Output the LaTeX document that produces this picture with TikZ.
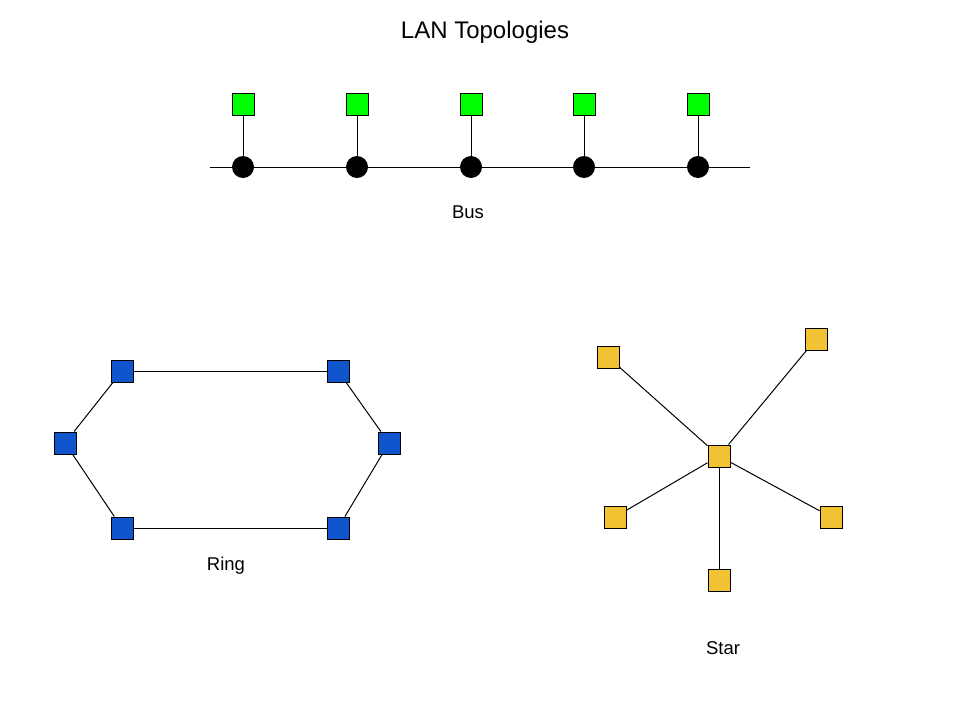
\documentclass[tikz,border=0pt]{standalone}
\usepackage{fontspec}
\setmainfont{Liberation Sans}
\definecolor{busgreen}{RGB}{0,255,0}
\definecolor{ringblue}{RGB}{17,85,204}
\definecolor{staryellow}{RGB}{241,194,50}

\begin{document}
\begin{tikzpicture}[x=1pt,y=-1pt,line width=1pt,
    station/.style={draw,minimum size=22pt,inner sep=0pt},
    tap/.style={circle,fill=black,minimum size=22pt,inner sep=0pt},
    lbl/.style={font=\fontsize{18.5}{22}\selectfont}]
    \useasboundingbox (0,0) rectangle (960,720);
%%   kw   (name)   (x, y)   {text}
    \node (title) at (485,32) {\fontsize{24}{28}\selectfont LAN Topologies};

%% bus
    \coordinate (busL) at (210,167);
    \coordinate (busR) at (750,167);
    \draw (busL) -- (busR);
    \node[tap] (c1) at (243,167) {};
    \node[tap] (c2) at (357,167) {};
    \node[tap] (c3) at (471,167) {};
    \node[tap] (c4) at (584,167) {};
    \node[tap] (c5) at (698,167) {};
    \node[station,fill=busgreen] (b1) at (243,104) {};
    \node[station,fill=busgreen] (b2) at (357,104) {};
    \node[station,fill=busgreen] (b3) at (471,104) {};
    \node[station,fill=busgreen] (b4) at (584,104) {};
    \node[station,fill=busgreen] (b5) at (698,104) {};
    \draw (b1) -- (c1);
    \draw (b2) -- (c2);
    \draw (b3) -- (c3);
    \draw (b4) -- (c4);
    \draw (b5) -- (c5);
    \node[lbl] (bus) at (468,212) {Bus};

%% ring
    \node[station,fill=ringblue] (r1) at (122,371) {};
    \node[station,fill=ringblue] (r2) at (338,371) {};
    \node[station,fill=ringblue] (r3) at (389,443) {};
    \node[station,fill=ringblue] (r4) at (338,528) {};
    \node[station,fill=ringblue] (r5) at (122,528) {};
    \node[station,fill=ringblue] (r6) at (65,443) {};
    \draw (r1) -- (r2);
    \draw (r2) -- (r3);
    \draw (r3) -- (r4);
    \draw (r4) -- (r5);
    \draw (r5) -- (r6);
    \draw (r6) -- (r1);
    \node[lbl] (ring) at (226,566) {Ring};

%% star
    \node[station,fill=staryellow] (hub) at (719,456) {};
    \node[station,fill=staryellow] (s1) at (608,357) {};
    \node[station,fill=staryellow] (s2) at (816,339) {};
    \node[station,fill=staryellow] (s3) at (615,517) {};
    \node[station,fill=staryellow] (s4) at (831,517) {};
    \node[station,fill=staryellow] (s5) at (719,580) {};
    \draw (hub) -- (s1);
    \draw (hub) -- (s2);
    \draw (hub) -- (s3);
    \draw (hub) -- (s4);
    \draw (hub) -- (s5);
    \node[lbl] (star) at (723,648) {Star};
\end{tikzpicture}
\end{document}
